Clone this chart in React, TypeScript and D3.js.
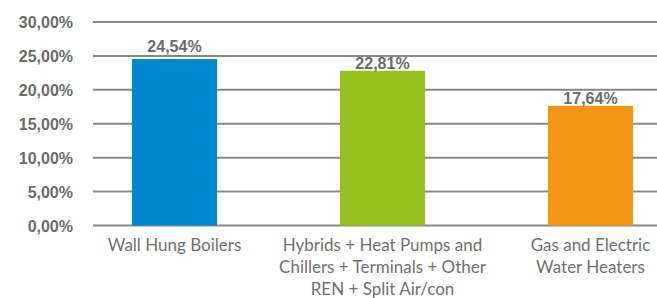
import React, { useEffect, useRef } from "react";
import * as d3 from "d3";

const categories = [
  ["Wall Hung Boilers"],
  ["Hybrids + Heat Pumps and", "Chillers + Terminals + Other", "REN + Split Air/con"],
  ["Gas and Electric", "Water Heaters"],
];
const shares = [24.54, 22.81, 17.64];
const barColors = ["#0088d1", "#95c11f", "#f39615"];
const yTicks = [0, 5, 10, 15, 20, 25, 30];

const fmt = (v: number) => v.toFixed(2).replace(".", ",") + "%";

export default function App() {
  const svgRef = useRef<SVGSVGElement>(null);

  useEffect(() => {
    const width = 657;
    const height = 298;
    const svg = d3.select(svgRef.current);
    svg.selectAll("*").remove();
    svg.attr("width", width).attr("height", height);

    const y = d3.scaleLinear().domain([0, 30]).range([225.5, 22]);
    const x = d3
      .scaleBand()
      .domain(categories.map((_, i) => String(i)))
      .range([70.5, 694.5])
      .paddingInner(0.591)
      .paddingOuter(0.2955);

    // gridlines
    svg
      .append("g")
      .selectAll("line")
      .data(yTicks)
      .enter()
      .append("line")
      .attr("x1", 93)
      .attr("x2", width)
      .attr("y1", (d) => y(d))
      .attr("y2", (d) => y(d))
      .attr("stroke", "#878787")
      .attr("stroke-width", 2);

    // y tick labels
    svg
      .append("g")
      .selectAll("text")
      .data(yTicks)
      .enter()
      .append("text")
      .attr("x", 73)
      .attr("y", (d) => y(d) + 6)
      .attr("text-anchor", "end")
      .attr("font-family", "Liberation Sans, Arial, sans-serif")
      .attr("font-weight", "bold")
      .attr("font-size", 16)
      .attr("fill", "#6b6b6b")
      .text((d) => fmt(d));

    // bars
    svg
      .append("g")
      .selectAll("rect")
      .data(shares)
      .enter()
      .append("rect")
      .attr("x", (_, i) => x(String(i))!)
      .attr("width", x.bandwidth())
      .attr("y", (d) => y(d))
      .attr("height", (d) => y(0) - y(d))
      .attr("fill", (_, i) => barColors[i]);

    // value labels, nudged above a gridline they would cross
    svg
      .append("g")
      .selectAll("text")
      .data(shares)
      .enter()
      .append("text")
      .attr("x", (_, i) => x(String(i))! + x.bandwidth() / 2)
      .attr("y", (d) => {
        let base = y(d) - 2;
        const grid = yTicks.map(y).find((g) => g < base && g > base - 11);
        if (grid !== undefined) base = grid - 4;
        return base;
      })
      .attr("text-anchor", "middle")
      .attr("font-family", "Liberation Sans, Arial, sans-serif")
      .attr("font-weight", "bold")
      .attr("font-size", 16)
      .attr("fill", "#6b6b6b")
      .text((d) => fmt(d));

    // category labels
    const cat = svg
      .append("g")
      .selectAll("text")
      .data(categories)
      .enter()
      .append("text")
      .attr("x", (_, i) => x(String(i))! + x.bandwidth() / 2)
      .attr("y", 251)
      .attr("text-anchor", "middle")
      .attr("font-family", "Lato, sans-serif")
      .attr("font-size", 17)
      .attr("fill", "#707070");
    cat
      .selectAll("tspan")
      .data((d) => d)
      .enter()
      .append("tspan")
      .attr("x", function () {
        return (this.parentNode as SVGTextElement).getAttribute("x");
      })
      .attr("dy", (_, i) => (i === 0 ? 0 : 22))
      .text((d) => d);
  }, []);

  return (
    <svg
      ref={svgRef}
      style={{ position: "absolute", left: 0, top: 0, background: "#fff" }}
    />
  );
}
